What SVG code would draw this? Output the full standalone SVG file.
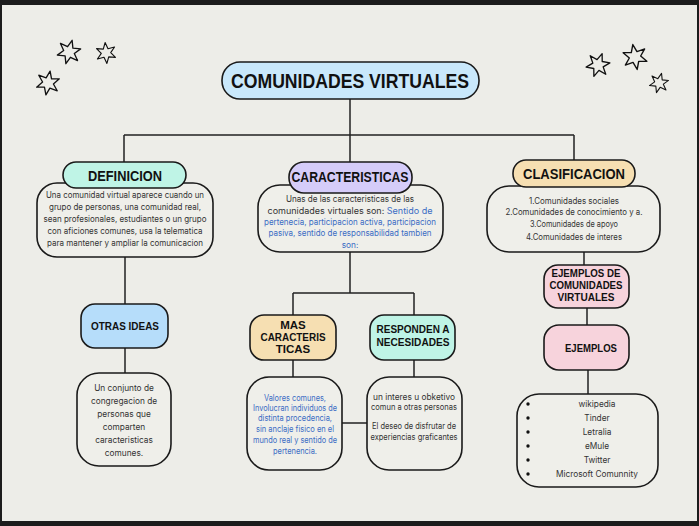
<svg xmlns="http://www.w3.org/2000/svg" width="699" height="526" viewBox="0 0 699 526">
<defs>
<style>
.box{fill:#EFEFEA;stroke:#1a1a1a;stroke-width:1.6}
.pill{stroke:#1a1a1a;stroke-width:1.6}
.h{font-family:"Liberation Sans",Arial,sans-serif;font-weight:bold;fill:#111;text-anchor:middle}
.t{font-family:Inter,"Noto Sans",sans-serif;font-size:8.3px;fill:#333;text-anchor:middle}
.b{fill:#3a6cc4}
.c{fill:none;stroke:#222;stroke-width:1.5}
.star{fill:#EDEDE8;stroke:#111;stroke-width:1.2;stroke-linejoin:round}
</style>
<polygon id="st" points="0,-11 2.5,-4.3 9.5,-5.5 5,0 9.5,5.5 2.5,4.3 0,11 -2.5,4.3 -9.5,5.5 -5,0 -9.5,-5.5 -2.5,-4.3"/>
</defs>
<rect x="0" y="0" width="699" height="526" fill="#1c1c1c"/>
<rect x="2" y="5" width="695" height="516" fill="#EDEDE8"/>

<g id="stars">
<use href="#st" class="star" transform="translate(69,52) rotate(15) scale(1.1)"/>
<use href="#st" class="star" transform="translate(106,53) rotate(-5) scale(0.95)"/>
<use href="#st" class="star" transform="translate(48,83) rotate(10) scale(1.1)"/>
<use href="#st" class="star" transform="translate(598,65) rotate(20) scale(1.1)"/>
<use href="#st" class="star" transform="translate(635,57) rotate(-10) scale(1.15)"/>
<use href="#st" class="star" transform="translate(659,83) rotate(15) scale(0.9)"/>
</g>

<g id="connectors">
<path class="c" d="M350,99 V135 M124,135 H574 M124,135 V162 M350,135 V162 M574,135 V160"/>
<path class="c" d="M125,257 V304 M125,348 V373"/>
<path class="c" d="M350,252 V293 M293,293 H414 M293,293 V315 M414,293 V315"/>
<path class="c" d="M293,360 V377 M414,360 V377 M342,423 H367"/>
<path class="c" d="M584,252 V265 M587,308 V325 M588,370 V394"/>
</g>

<g id="title">
<rect class="pill" x="222" y="62" width="257" height="37" rx="18" fill="#C9E8FB"/>
<text class="h" x="350" y="88" font-size="20" textLength="238" lengthAdjust="spacingAndGlyphs">COMUNIDADES VIRTUALES</text>
</g>

<g id="definicion">
<rect class="box" x="37" y="183" width="176" height="74" rx="20"/>
<rect class="pill" x="63" y="162" width="123" height="26" rx="13" fill="#BFF4E6"/>
<text class="h" x="125" y="181" font-size="14" textLength="74" lengthAdjust="spacingAndGlyphs">DEFINICION</text>
<text class="t" x="125" y="198" textLength="158" lengthAdjust="spacingAndGlyphs">Una comunidad virtual aparece cuando un</text>
<text class="t" x="125" y="210" textLength="152" lengthAdjust="spacingAndGlyphs">grupo de personas, una comunidad real,</text>
<text class="t" x="125" y="222" textLength="163" lengthAdjust="spacingAndGlyphs">sean profesionales, estudiantes o un grupo</text>
<text class="t" x="125" y="234" textLength="155" lengthAdjust="spacingAndGlyphs">con aficiones comunes, usa la telematica</text>
<text class="t" x="125" y="246" textLength="156" lengthAdjust="spacingAndGlyphs">para mantener y ampliar la comunicacion</text>
</g>

<g id="otras-ideas">
<rect class="pill" x="81" y="304" width="87" height="44" rx="14" fill="#B6DDFA"/>
<text class="h" x="125" y="330" font-size="11.5" textLength="68" lengthAdjust="spacingAndGlyphs">OTRAS IDEAS</text>
</g>

<g id="otras-texto">
<rect class="box" x="77" y="373" width="94" height="93" rx="22"/>
<text class="t" x="124" y="391" font-size="10">Un conjunto de</text>
<text class="t" x="124" y="404" font-size="10">congregacion de</text>
<text class="t" x="124" y="417" font-size="10">personas que</text>
<text class="t" x="124" y="430" font-size="10">comparten</text>
<text class="t" x="124" y="443" font-size="10">caracteristicas</text>
<text class="t" x="124" y="456" font-size="10">comunes.</text>
</g>

<g id="caracteristicas">
<rect class="box" x="258" y="185" width="185" height="67" rx="22"/>
<rect class="pill" x="289" y="162" width="123" height="31" rx="15" fill="#D5CCF9"/>
<text class="h" x="350" y="182" font-size="14" textLength="117" lengthAdjust="spacingAndGlyphs">CARACTERISTICAS</text>
<text class="t" x="350" y="202" textLength="128" lengthAdjust="spacingAndGlyphs">Unas de las caracteristicas de las</text>
<text class="t" x="350" y="214" textLength="165" lengthAdjust="spacingAndGlyphs">comunidades virtuales son: <tspan class="b">Sentido de</tspan></text>
<text class="t b" x="350" y="225" textLength="172" lengthAdjust="spacingAndGlyphs">pertenecia, participacion activa, participacion</text>
<text class="t b" x="350" y="236" textLength="163" lengthAdjust="spacingAndGlyphs">pasiva, sentido de responsabilidad tambien</text>
<text class="t b" x="350" y="248">son:</text>
</g>

<g id="mas-caracteristicas">
<rect class="pill" x="250" y="315" width="86" height="45" rx="14" fill="#F6DFB2"/>
<text class="h" x="293" y="329" font-size="11.5">MAS</text>
<text class="h" x="293" y="341" font-size="11.5" textLength="65" lengthAdjust="spacingAndGlyphs">CARACTERIS</text>
<text class="h" x="293" y="353" font-size="11.5">TICAS</text>
</g>

<g id="responden">
<rect class="pill" x="370" y="315" width="85" height="45" rx="14" fill="#BFF4E6"/>
<text class="h" x="413" y="333" font-size="11.5" textLength="73" lengthAdjust="spacingAndGlyphs">RESPONDEN A</text>
<text class="h" x="413" y="346" font-size="11.5" textLength="73" lengthAdjust="spacingAndGlyphs">NECESIDADES</text>
</g>

<g id="valores">
<rect class="box" x="247" y="377" width="95" height="93" rx="22"/>
<text class="t b" x="295" y="401" textLength="62" lengthAdjust="spacingAndGlyphs">Valores comunes,</text>
<text class="t b" x="295" y="411" textLength="84" lengthAdjust="spacingAndGlyphs">Involucran individuos de</text>
<text class="t b" x="295" y="421" textLength="74" lengthAdjust="spacingAndGlyphs">distinta procedencia,</text>
<text class="t b" x="295" y="432" textLength="78" lengthAdjust="spacingAndGlyphs">sin anclaje fisico en el</text>
<text class="t b" x="295" y="443" textLength="84" lengthAdjust="spacingAndGlyphs">mundo real y sentido de</text>
<text class="t b" x="295" y="454" textLength="44" lengthAdjust="spacingAndGlyphs">pertenencia.</text>
</g>

<g id="interes">
<rect class="box" x="367" y="377" width="95" height="93" rx="22"/>
<text class="t" x="414" y="400" textLength="82" lengthAdjust="spacingAndGlyphs">un interes u obketivo</text>
<text class="t" x="414" y="410" textLength="86" lengthAdjust="spacingAndGlyphs">comun a otras personas</text>
<text class="t" x="414" y="429" textLength="84" lengthAdjust="spacingAndGlyphs">El deseo de disfrutar de</text>
<text class="t" x="414" y="440" textLength="87" lengthAdjust="spacingAndGlyphs">experiencias graficantes</text>
</g>

<g id="clasificacion">
<rect class="box" x="487" y="186" width="173" height="66" rx="22"/>
<rect class="pill" x="513" y="160" width="122" height="27" rx="13" fill="#F6DFB2"/>
<text class="h" x="574" y="179" font-size="14" textLength="102" lengthAdjust="spacingAndGlyphs">CLASIFICACION</text>
<text class="t" x="574" y="204" textLength="90" lengthAdjust="spacingAndGlyphs">1.Comunidades sociales</text>
<text class="t" x="574" y="215" textLength="137" lengthAdjust="spacingAndGlyphs">2.Comunidades de conocimiento y a.</text>
<text class="t" x="574" y="227" textLength="88" lengthAdjust="spacingAndGlyphs">3.Comunidades de apoyo</text>
<text class="t" x="574" y="240" textLength="96" lengthAdjust="spacingAndGlyphs">4.Comunidades de interes</text>
</g>

<g id="ejemplos-de-comunidades">
<rect class="pill" x="544" y="265" width="85" height="43" rx="14" fill="#F7D3DC"/>
<text class="h" x="586" y="277" font-size="11.5" textLength="69" lengthAdjust="spacingAndGlyphs">EJEMPLOS DE</text>
<text class="h" x="586" y="289" font-size="11.5" textLength="73" lengthAdjust="spacingAndGlyphs">COMUNIDADES</text>
<text class="h" x="586" y="301" font-size="11.5" textLength="57" lengthAdjust="spacingAndGlyphs">VIRTUALES</text>
</g>

<g id="ejemplos">
<rect class="pill" x="544" y="325" width="85" height="45" rx="15" fill="#F7D3DC"/>
<text class="h" x="591" y="352" font-size="11.5" textLength="52" lengthAdjust="spacingAndGlyphs">EJEMPLOS</text>
</g>

<g id="lista">
<rect class="box" x="517" y="394" width="141" height="93" rx="22"/>
<g fill="#111">
<circle cx="528" cy="404" r="1.7"/><circle cx="528" cy="418" r="1.7"/><circle cx="528" cy="432" r="1.7"/>
<circle cx="528" cy="446" r="1.7"/><circle cx="528" cy="460" r="1.7"/><circle cx="528" cy="474" r="1.7"/>
</g>
<text class="t" x="597" y="407" font-size="10">wikipedia</text>
<text class="t" x="597" y="421" font-size="10">Tinder</text>
<text class="t" x="597" y="435" font-size="10">Letralia</text>
<text class="t" x="597" y="449" font-size="10">eMule</text>
<text class="t" x="597" y="463" font-size="10">Twitter</text>
<text class="t" x="597" y="477" font-size="10">Microsoft Comunnity</text>
</g>
</svg>
